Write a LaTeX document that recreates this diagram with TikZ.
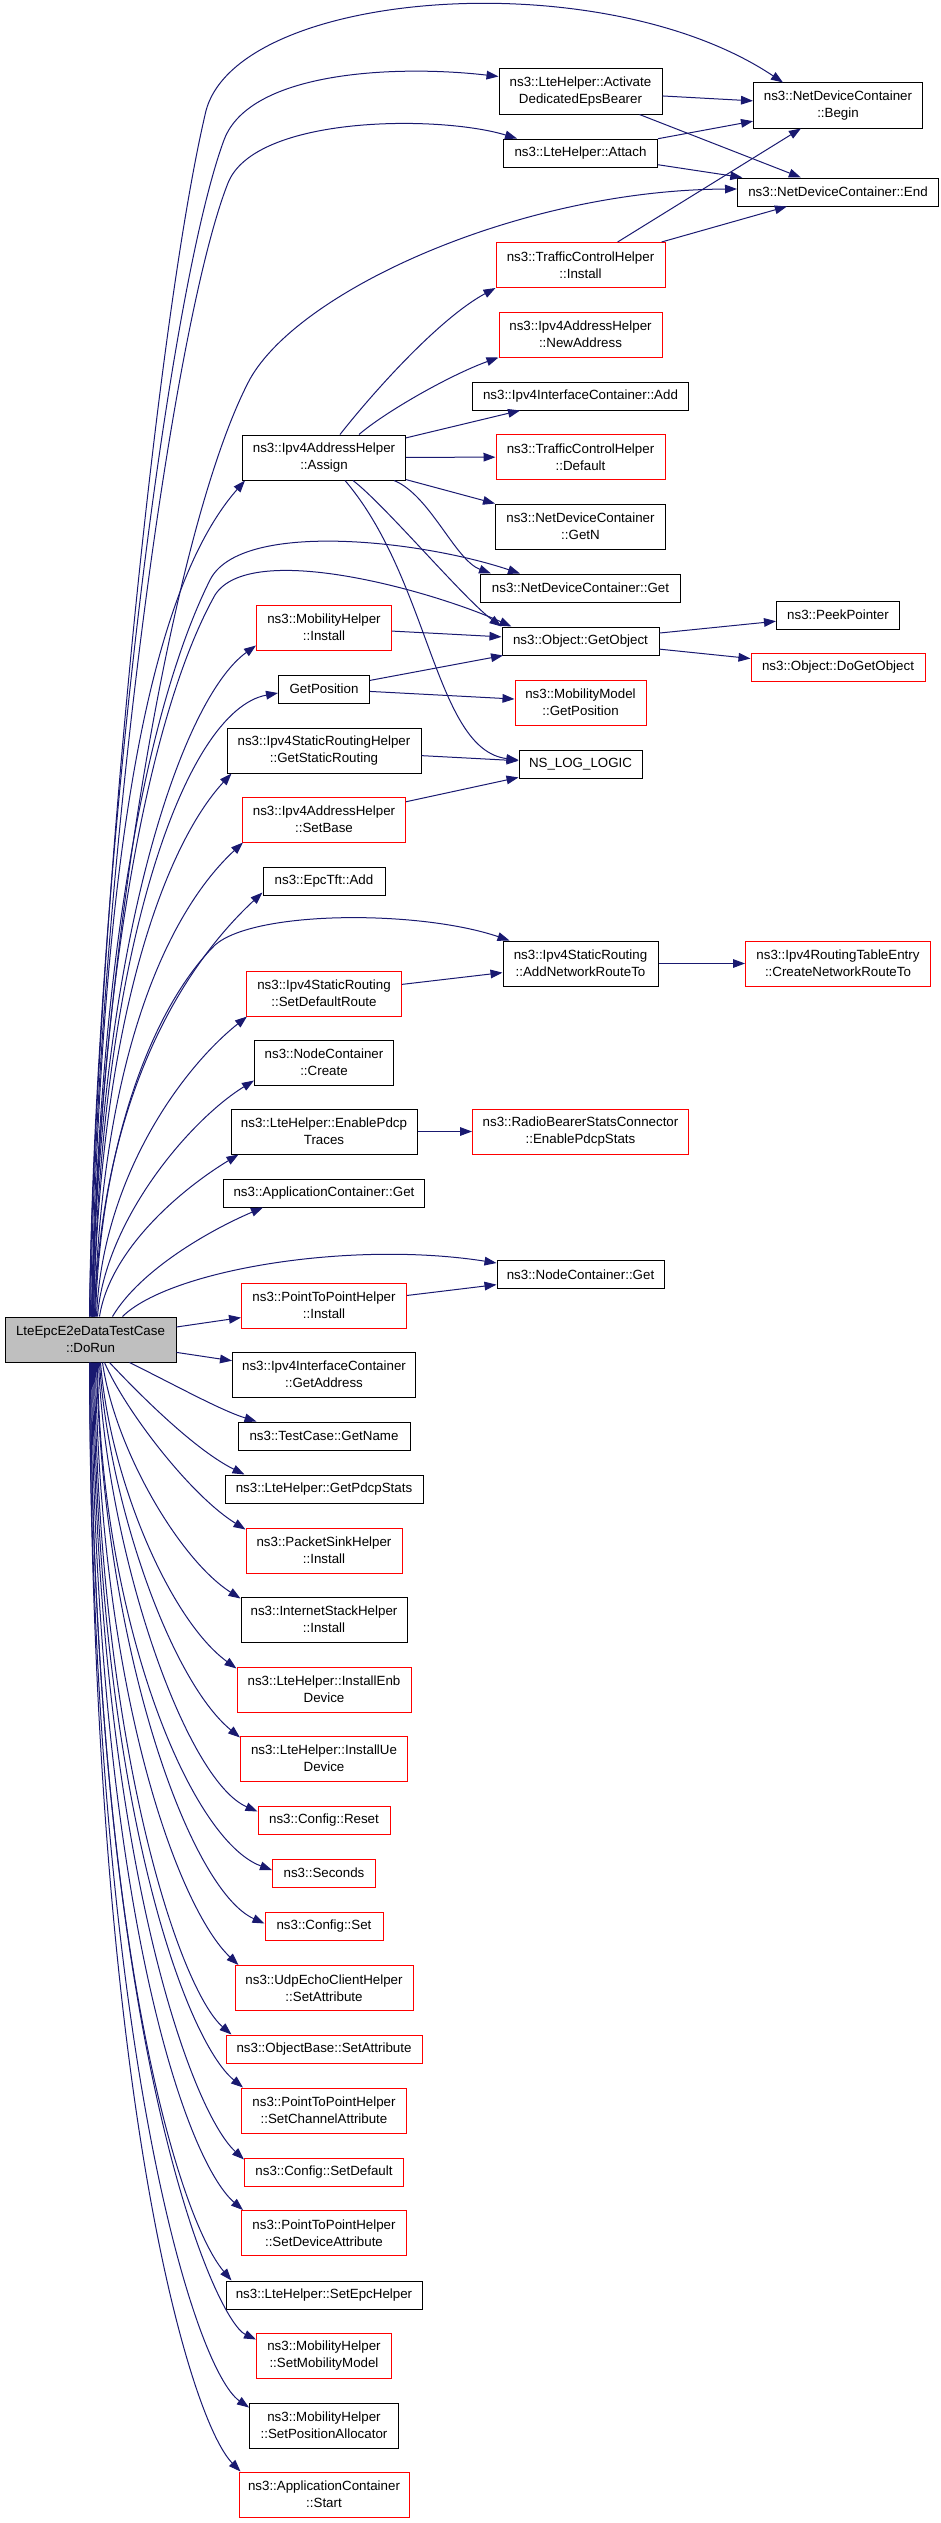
\documentclass[tikz,border=0pt]{standalone}
\usepackage{fontspec}
\setmainfont{Liberation Sans}
\usetikzlibrary{arrows.meta,calc}
\definecolor{edgeblue}{HTML}{191970}
\definecolor{rootgray}{HTML}{BFBFBF}
\newcommand\fsz{\fontsize{10pt}{12.5pt}\selectfont}
\begin{document}
\begin{tikzpicture}[x=0.75pt,y=-0.75pt,
  fn/.style={draw=black, line width=0.75pt, fill=white, font=\fsz, align=center,
             inner xsep=0pt, inner ysep=1pt, minimum height=21pt},
  two/.style={minimum height=33.75pt},
  trunc/.style={draw=red},
  wd/.style={minimum width=#1*0.75pt},
  ed/.style={draw=edgeblue, line width=0.75pt, -{Triangle[length=9pt,width=6.5pt]}}]
\useasboundingbox (0,0) rectangle (941,2523);

% root
\node[fn,two,wd=171,fill=rootgray] (dorun) at (90.5,1339.5) {LteEpcE2eDataTestCase\\::DoRun};

% column 2
\node[fn,two,wd=163] (assign) at (324,457.5) {ns3::Ipv4AddressHelper\\::Assign};
\node[fn,two,trunc,wd=135] (mobinst) at (324,627.5) {ns3::MobilityHelper\\::Install};
\node[fn,wd=91] (getpos) at (324,689) {GetPosition};
\node[fn,two,wd=194] (getstatic) at (324,750.5) {ns3::Ipv4StaticRoutingHelper\\::GetStaticRouting};
\node[fn,two,trunc,wd=163] (setbase) at (324,819.5) {ns3::Ipv4AddressHelper\\::SetBase};
\node[fn,wd=122] (epcadd) at (324,881) {ns3::EpcTft::Add};
\node[fn,two,trunc,wd=155] (setdefroute) at (324,993.5) {ns3::Ipv4StaticRouting\\::SetDefaultRoute};
\node[fn,two,wd=139] (nccreate) at (324,1062.5) {ns3::NodeContainer\\::Create};
\node[fn,two,wd=186] (pdcptraces) at (324,1131.5) {ns3::LteHelper::EnablePdcp\\Traces};
\node[fn,wd=201] (appget) at (324,1193) {ns3::ApplicationContainer::Get};
\node[fn,two,trunc,wd=165] (p2pinst) at (324,1305.5) {ns3::PointToPointHelper\\::Install};
\node[fn,two,wd=183] (getaddr) at (324,1374.5) {ns3::Ipv4InterfaceContainer\\::GetAddress};
\node[fn,wd=172] (getname) at (324,1436) {ns3::TestCase::GetName};
\node[fn,wd=198] (getpdcp) at (324,1489) {ns3::LteHelper::GetPdcpStats};
\node[fn,two,trunc,wd=156] (pktsink) at (324,1550.5) {ns3::PacketSinkHelper\\::Install};
\node[fn,two,wd=166] (inetstack) at (324,1619.5) {ns3::InternetStackHelper\\::Install};
\node[fn,two,trunc,wd=174] (enbdev) at (324,1689.5) {ns3::LteHelper::InstallEnb\\Device};
\node[fn,two,trunc,wd=167] (uedev) at (324,1758.5) {ns3::LteHelper::InstallUe\\Device};
\node[fn,trunc,wd=132] (cfgreset) at (324,1820) {ns3::Config::Reset};
\node[fn,trunc,wd=103] (seconds) at (324,1873) {ns3::Seconds};
\node[fn,trunc,wd=118] (cfgset) at (324,1926.5) {ns3::Config::Set};
\node[fn,two,trunc,wd=178] (udpecho) at (324,1988) {ns3::UdpEchoClientHelper\\::SetAttribute};
\node[fn,trunc,wd=196] (objbase) at (324,2049) {ns3::ObjectBase::SetAttribute};
\node[fn,two,trunc,wd=165] (chanattr) at (324,2110.5) {ns3::PointToPointHelper\\::SetChannelAttribute};
\node[fn,trunc,wd=159] (cfgdefault) at (324,2172) {ns3::Config::SetDefault};
\node[fn,two,trunc,wd=165] (devattr) at (324,2233) {ns3::PointToPointHelper\\::SetDeviceAttribute};
\node[fn,wd=196] (setepc) at (324,2295) {ns3::LteHelper::SetEpcHelper};
\node[fn,two,trunc,wd=135] (setmob) at (324,2355.5) {ns3::MobilityHelper\\::SetMobilityModel};
\node[fn,two,wd=149] (setposalloc) at (324,2425.5) {ns3::MobilityHelper\\::SetPositionAllocator};
\node[fn,two,trunc,wd=170] (appstart) at (324,2494.5) {ns3::ApplicationContainer\\::Start};

% column 3
\node[fn,two,wd=163] (activate) at (580.5,91.5) {ns3::LteHelper::Activate\\DedicatedEpsBearer};
\node[fn,wd=154] (attach) at (580.5,153) {ns3::LteHelper::Attach};
\node[fn,two,trunc,wd=169] (tcinstall) at (580.5,265) {ns3::TrafficControlHelper\\::Install};
\node[fn,two,trunc,wd=163] (newaddr) at (580.5,334.5) {ns3::Ipv4AddressHelper\\::NewAddress};
\node[fn,wd=216] (ifadd) at (580.5,396) {ns3::Ipv4InterfaceContainer::Add};
\node[fn,two,trunc,wd=169] (tcdefault) at (580.5,457) {ns3::TrafficControlHelper\\::Default};
\node[fn,two,wd=170] (getn) at (580.5,526.5) {ns3::NetDeviceContainer\\::GetN};
\node[fn,wd=200] (ndcget) at (580.5,588) {ns3::NetDeviceContainer::Get};
\node[fn,wd=157] (getobj) at (580.5,641) {ns3::Object::GetObject};
\node[fn,two,trunc,wd=131] (mmgetpos) at (580.5,702.5) {ns3::MobilityModel\\::GetPosition};
\node[fn,wd=123] (nslog) at (580.5,764) {NS\_LOG\_LOGIC};
\node[fn,two,wd=155] (addroute) at (580.5,963.5) {ns3::Ipv4StaticRouting\\::AddNetworkRouteTo};
\node[fn,two,trunc,wd=216] (pdcpstats) at (580.5,1131.5) {ns3::RadioBearerStatsConnector\\::EnablePdcpStats};
\node[fn,wd=167] (ncget) at (580.5,1274.5) {ns3::NodeContainer::Get};

% column 4
\node[fn,two,wd=169] (ndcbegin) at (838,105.5) {ns3::NetDeviceContainer\\::Begin};
\node[fn,wd=201] (ndcend) at (838,192) {ns3::NetDeviceContainer::End};
\node[fn,wd=123] (peek) at (838,615) {ns3::PeekPointer};
\node[fn,trunc,wd=174] (dogetobj) at (838,667.5) {ns3::Object::DoGetObject};
\node[fn,two,trunc,wd=185] (createroute) at (838,963.5) {ns3::Ipv4RoutingTableEntry\\::CreateNetworkRouteTo};

% straight connectors
\draw[ed] (activate) -- (ndcbegin);
\draw[ed] (activate) -- (ndcend);
\draw[ed] (attach) -- (ndcbegin);
\draw[ed] (attach) -- (ndcend);
\draw[ed] (tcinstall) -- (ndcbegin);
\draw[ed] (tcinstall) -- (ndcend);
\draw[ed] (assign) -- (ifadd);
\draw[ed] (assign) -- (tcdefault);
\draw[ed] (assign) -- (getn);
\draw[ed] (mobinst) -- (getobj);
\draw[ed] (getpos) -- (getobj);
\draw[ed] (getpos) -- (mmgetpos);
\draw[ed] (getobj) -- (peek);
\draw[ed] (getobj) -- (dogetobj);
\draw[ed] (getstatic) -- (nslog);
\draw[ed] (setbase) -- (nslog);
\draw[ed] (setdefroute) -- (addroute);
\draw[ed] (addroute) -- (createroute);
\draw[ed] (pdcptraces) -- (pdcpstats);
\draw[ed] (p2pinst) -- (ncget);
\draw[ed] (dorun) -- (p2pinst);
\draw[ed] (dorun) -- (getaddr);

% Assign curved connectors
\draw[ed] ($(assign.north)+(16,0)$) .. controls (375,390) and (440,318) .. (tcinstall.south west);
\draw[ed] ($(assign.north)+(35,0)$) .. controls (385,412) and (450,375) .. (newaddr.south west);
\draw[ed] ($(assign.south)+(70,0)$) .. controls (430,495) and (455,560) .. ($(ndcget.north west)+(11,0)$);
\draw[ed] ($(assign.south)+(29,0)$) .. controls (385,505) and (465,600) .. (getobj.north west);
\draw[ed] ($(assign.south)+(21,0)$) .. controls (430,580) and (435,750) .. ($(nslog.west)+(0,-4)$);

% DoRun upward connectors
\draw[ed] ($(dorun.north west)+(85,0)$) .. controls (95,950) and (155,330) .. (205,115) .. controls (230,-10) and (600,-40) .. ($(ndcbegin.north west)+(30,0)$);
\draw[ed] ($(dorun.north west)+(85,0)$) .. controls (94,900) and (165,300) .. (224,140) .. controls (250,70) and (400,65) .. ($(activate.north west)+(0,8)$);
\draw[ed] ($(dorun.north west)+(86,0)$) .. controls (96,900) and (170,330) .. (228,183) .. controls (255,115) and (440,115) .. ($(attach.north west)+(14,0)$);
\draw[ed] ($(dorun.north west)+(87,0)$) .. controls (100,950) and (175,520) .. (250,379) .. controls (300,290) and (520,190) .. ($(ndcend.west)+(0,-3)$);
\draw[ed] ($(dorun.north west)+(87,0)$) .. controls (100,900) and (140,600) .. ($(assign.south west)+(3,0)$);
\draw[ed] ($(dorun.north west)+(88,0)$) .. controls (98,950) and (150,700) .. (210,580) .. controls (240,520) and (420,540) .. ($(ndcget.north west)+(40,0)$);
\draw[ed] ($(dorun.north west)+(88,0)$) .. controls (98,1000) and (145,720) .. (215,595) .. controls (250,540) and (430,590) .. ($(getobj.north west)+(10,0)$);
\draw[ed] ($(dorun.north west)+(88,0)$) .. controls (98,950) and (180,700) .. ($(mobinst.south west)+(0,-5)$);
\draw[ed] ($(dorun.north west)+(89,0)$) .. controls (100,950) and (185,710) .. ($(getpos.west)+(0,4)$);
\draw[ed] ($(dorun.north west)+(89,0)$) .. controls (100,1020) and (165,845) .. ($(getstatic.south west)+(5,0)$);
\draw[ed] ($(dorun.north west)+(90,0)$) .. controls (102,1050) and (170,910) .. ($(setbase.south west)+(1,0)$);
\draw[ed] ($(dorun.north west)+(90,0)$) .. controls (102,1080) and (195,955) .. ($(epcadd.south west)+(0,-3)$);
\draw[ed] ($(dorun.north west)+(91,0)$) .. controls (100,1150) and (150,1010) .. (215,945) .. controls (255,910) and (420,910) .. ($(addroute.north west)+(7,0)$);
\draw[ed] ($(dorun.north west)+(92,0)$) .. controls (102,1180) and (180,1070) .. ($(setdefroute.south west)+(1,0)$);
\draw[ed] ($(dorun.north west)+(93,0)$) .. controls (105,1220) and (190,1120) .. ($(nccreate.south west)+(0,-5)$);
\draw[ed] ($(dorun.north west)+(95,0)$) .. controls (110,1250) and (180,1190) .. ($(pdcptraces.south west)+(8,0)$);
\draw[ed] ($(dorun.north west)+(108,0)$) .. controls (140,1270) and (210,1230) .. ($(appget.south west)+(40,0)$);
\draw[ed] ($(dorun.north west)+(118,0)$) .. controls (170,1270) and (350,1240) .. ($(ncget.north west)+(0,3)$);

% DoRun downward connectors
\draw[ed] ($(dorun.south west)+(125,0)$) .. controls (175,1385) and (220,1410) .. ($(getname.north west)+(19,0)$);
\draw[ed] ($(dorun.south west)+(105,0)$) .. controls (140,1395) and (195,1450) .. ($(getpdcp.north west)+(20,0)$);
\draw[ed] ($(dorun.south west)+(100,0)$) .. controls (125,1410) and (190,1495) .. ($(pktsink.north west)+(0,2)$);
\draw[ed] ($(dorun.south west)+(98,0)$) .. controls (115,1450) and (180,1560) .. ($(inetstack.north west)+(0,2)$);
\draw[ed] ($(dorun.south west)+(96,0)$) .. controls (110,1480) and (170,1620) .. ($(enbdev.north west)+(0,2)$);
\draw[ed] ($(dorun.south west)+(95,0)$) .. controls (108,1500) and (170,1680) .. ($(uedev.north west)+(0,2)$);
\draw[ed] ($(dorun.south west)+(94,0)$) .. controls (106,1550) and (185,1780) .. ($(cfgreset.north west)+(0,6)$);
\draw[ed] ($(dorun.south west)+(93,0)$) .. controls (100,1620) and (190,1840) .. ($(seconds.west)+(0,-3)$);
\draw[ed] ($(dorun.south west)+(92,0)$) .. controls (103,1650) and (190,1890) .. ($(cfgset.west)+(0,-3)$);
\draw[ed] ($(dorun.south west)+(91,0)$) .. controls (100,1700) and (180,1910) .. ($(udpecho.north west)+(4,0)$);
\draw[ed] ($(dorun.south west)+(90,0)$) .. controls (98,1750) and (180,1990) .. ($(objbase.north west)+(6,0)$);
\draw[ed] ($(dorun.south west)+(89,0)$) .. controls (97,1800) and (185,2040) .. ($(chanattr.north west)+(2,0)$);
\draw[ed] ($(dorun.south west)+(88,0)$) .. controls (96,1850) and (190,2110) .. ($(cfgdefault.north west)+(0,2)$);
\draw[ed] ($(dorun.south west)+(87,0)$) .. controls (95,1900) and (185,2160) .. ($(devattr.north west)+(2,0)$);
\draw[ed] ($(dorun.south west)+(86,0)$) .. controls (93,1950) and (180,2220) .. ($(setepc.north west)+(6,0)$);
\draw[ed] ($(dorun.south west)+(86,0)$) .. controls (93,2050) and (215,2320) .. ($(setmob.north west)+(0,7)$);
\draw[ed] ($(dorun.south west)+(85,0)$) .. controls (92,2050) and (195,2370) .. ($(setposalloc.north west)+(0,5)$);
\draw[ed] ($(dorun.south west)+(85,0)$) .. controls (92,2100) and (190,2420) .. ($(appstart.north west)+(2,0)$);
\end{tikzpicture}
\end{document}
